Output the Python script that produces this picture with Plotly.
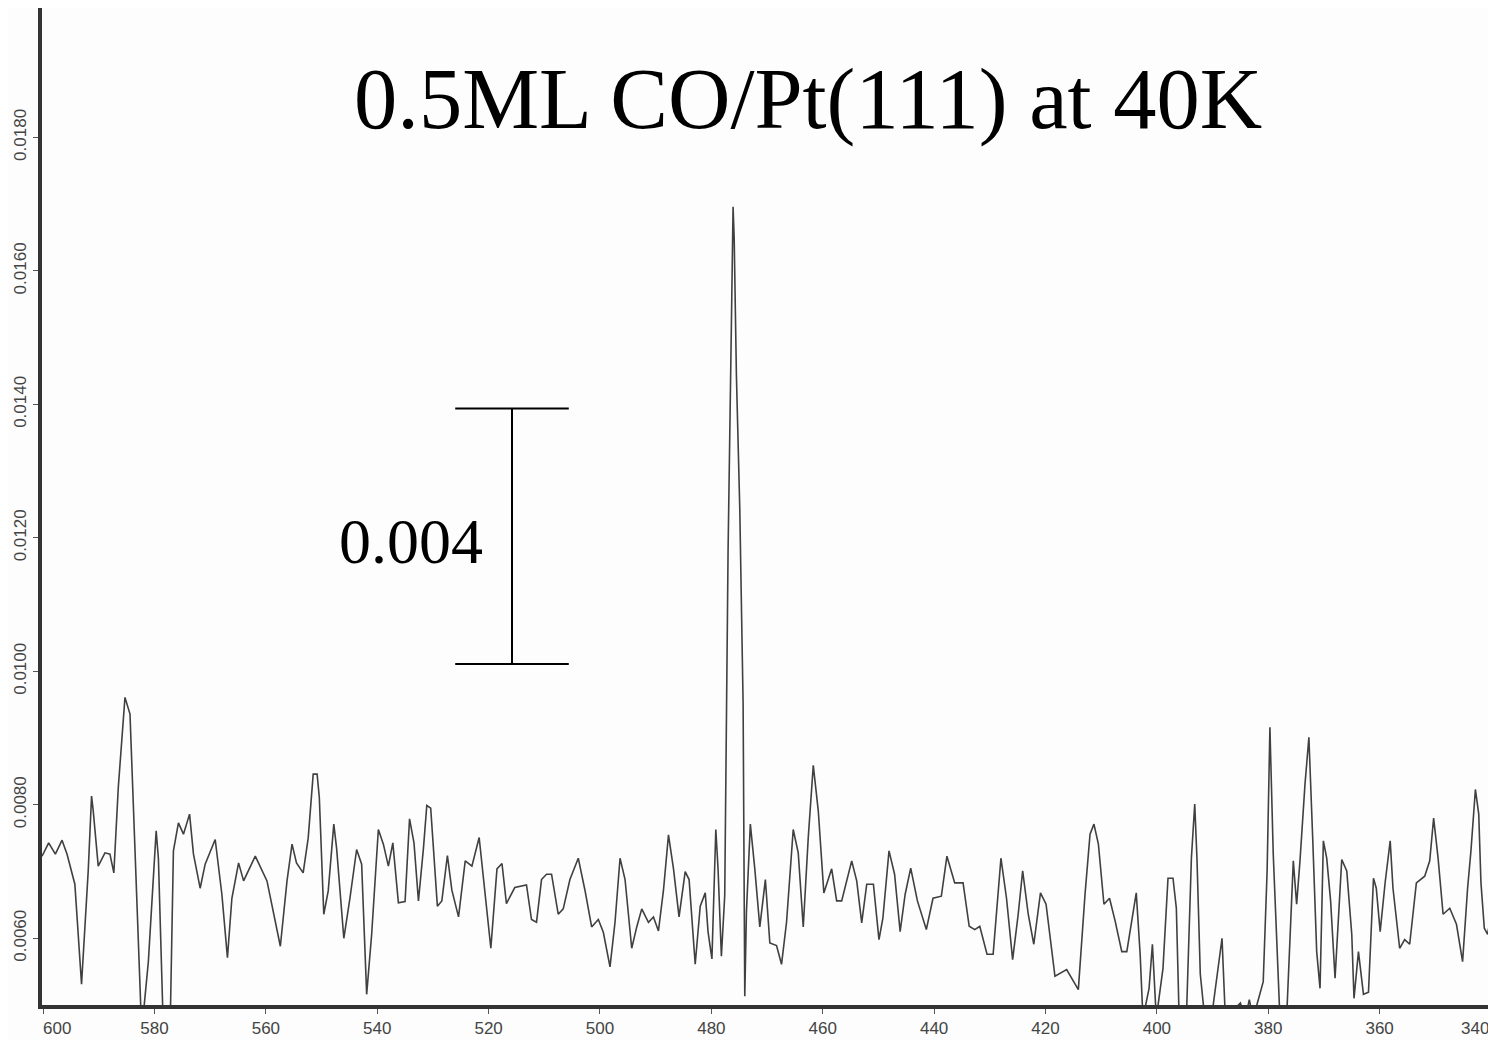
import plotly.graph_objects as go

# Wavenumber (cm^-1) and absorbance
wavenumber = [
    600.2, 599.0, 597.8, 596.6, 595.7, 594.3, 593.1, 591.9, 591.3, 591.0, 590.1, 588.9, 588.0, 587.3,
    586.5, 585.3, 584.4, 583.2, 582.3, 581.1, 579.7, 579.3, 578.4, 577.2, 576.6, 575.7, 574.8, 573.7,
    573.0, 571.8, 570.9, 569.1, 567.9, 566.9, 566.1, 564.9, 564.0, 561.9, 559.8, 557.4, 556.2, 555.3,
    554.5, 553.3, 552.4, 551.5, 550.8, 550.4, 549.6, 548.8, 547.8, 547.3, 546.0, 544.9, 543.7, 542.8,
    541.9, 541.0, 539.8, 538.9, 538.0, 537.2, 536.2, 535.0, 534.2, 533.4, 532.6, 531.7, 531.1, 530.4,
    529.2, 528.4, 527.4, 526.6, 525.4, 524.2, 523.0, 521.7, 520.9, 519.6, 518.5, 517.6, 516.8, 515.3,
    513.2, 512.3, 511.4, 510.5, 509.6, 508.7, 507.5, 506.6, 505.4, 503.9, 502.7, 501.5, 500.3, 499.4,
    498.2, 497.3, 496.4, 495.5, 494.3, 493.4, 492.5, 491.3, 490.4, 489.5, 488.6, 487.7, 486.8, 485.8,
    484.7, 484.0, 482.9, 482.0, 481.1, 480.6, 479.9, 479.2, 478.8, 478.2, 477.6, 477.0, 476.4, 476.1,
    475.9, 475.5, 474.9, 474.3, 474.0, 473.7, 473.0, 472.2, 471.3, 470.3, 469.5, 468.3, 467.4, 466.5,
    465.3, 464.4, 463.5, 462.6, 461.7, 460.8, 459.8, 459.0, 458.4, 457.5, 456.6, 454.8, 453.9, 453.0,
    452.1, 450.9, 449.9, 449.2, 448.1, 447.1, 446.1, 445.2, 444.2, 443.0, 441.4, 440.2, 438.7, 437.7,
    436.3, 434.8, 433.7, 432.7, 431.8, 430.5, 429.4, 428.0, 427.0, 425.9, 424.9, 424.1, 423.1, 422.1,
    420.9, 419.9, 418.3, 416.2, 414.1, 412.9, 412.0, 411.3, 410.5, 409.5, 408.5, 407.5, 406.3, 405.4,
    403.7, 403.0, 402.5, 401.4, 400.8, 400.1, 398.9, 398.0, 397.1, 396.5, 396.0, 394.7, 393.8, 393.2,
    392.8, 392.2, 391.4, 390.2, 389.3, 388.3, 387.7, 385.0, 384.1, 383.4, 382.7, 380.9, 380.2, 379.7,
    379.1, 378.5, 377.9, 376.7, 376.1, 375.5, 374.9, 374.3, 373.4, 372.7, 372.0, 371.3, 370.7, 370.1,
    369.5, 368.8, 368.0, 366.8, 365.9, 365.0, 364.6, 363.8, 362.9, 362.0, 361.1, 360.6, 359.9, 359.0,
    358.1, 357.6, 356.4, 355.5, 354.6, 353.4, 351.9, 351.0, 350.3, 349.5, 348.6, 347.4, 346.2, 345.1,
    344.2, 343.6, 342.8, 342.2, 341.8, 341.2, 340.6, 340.0, 339.4,
]
absorbance = [
    0.00723, 0.00743, 0.00726, 0.00747, 0.00726, 0.00681, 0.00531, 0.00701, 0.00813, 0.00791, 0.00708, 0.00728, 0.00726, 0.00698,
    0.00826, 0.00961, 0.00936, 0.00645, 0.00460, 0.00565, 0.00761, 0.00720, 0.00460, 0.00460, 0.00731, 0.00773, 0.00756, 0.00786,
    0.00726, 0.00675, 0.00711, 0.00748, 0.00666, 0.00571, 0.00660, 0.00713, 0.00686, 0.00723, 0.00686, 0.00588, 0.00686, 0.00741,
    0.00713, 0.00698, 0.00750, 0.00846, 0.00846, 0.00811, 0.00636, 0.00671, 0.00771, 0.00735, 0.00600, 0.00660, 0.00733, 0.00711,
    0.00516, 0.00606, 0.00763, 0.00741, 0.00708, 0.00743, 0.00653, 0.00655, 0.00779, 0.00743, 0.00656, 0.00735, 0.00799, 0.00795,
    0.00648, 0.00656, 0.00724, 0.00672, 0.00632, 0.00716, 0.00708, 0.00751, 0.00688, 0.00585, 0.00704, 0.00712, 0.00652, 0.00676,
    0.00680, 0.00628, 0.00624, 0.00688, 0.00696, 0.00696, 0.00636, 0.00644, 0.00688, 0.00720, 0.00672, 0.00617, 0.00628, 0.00609,
    0.00557, 0.00624, 0.00720, 0.00688, 0.00585, 0.00617, 0.00644, 0.00624, 0.00632, 0.00611, 0.00672, 0.00755, 0.00704, 0.00632,
    0.00700, 0.00688, 0.00561, 0.00648, 0.00668, 0.00610, 0.00569, 0.00763, 0.00704, 0.00573, 0.00664, 0.01180, 0.01522, 0.01696,
    0.01648, 0.01443, 0.01245, 0.00951, 0.00513, 0.00640, 0.00771, 0.00704, 0.00617, 0.00688, 0.00593, 0.00589, 0.00561, 0.00624,
    0.00763, 0.00728, 0.00617, 0.00751, 0.00859, 0.00791, 0.00668, 0.00688, 0.00704, 0.00656, 0.00656, 0.00716, 0.00686, 0.00623,
    0.00681, 0.00681, 0.00598, 0.00630, 0.00731, 0.00696, 0.00610, 0.00666, 0.00705, 0.00656, 0.00613, 0.00660, 0.00663, 0.00723,
    0.00683, 0.00683, 0.00618, 0.00613, 0.00618, 0.00576, 0.00576, 0.00720, 0.00660, 0.00568, 0.00636, 0.00701, 0.00636, 0.00591,
    0.00668, 0.00651, 0.00543, 0.00553, 0.00523, 0.00666, 0.00756, 0.00771, 0.00741, 0.00651, 0.00660, 0.00626, 0.00580, 0.00580,
    0.00668, 0.00576, 0.00480, 0.00525, 0.00591, 0.00480, 0.00555, 0.00690, 0.00690, 0.00645, 0.00480, 0.00480, 0.00720, 0.00801,
    0.00720, 0.00546, 0.00480, 0.00480, 0.00540, 0.00600, 0.00480, 0.00503, 0.00480, 0.00508, 0.00480, 0.00535, 0.00701, 0.00916,
    0.00726, 0.00606, 0.00480, 0.00480, 0.00606, 0.00716, 0.00651, 0.00716, 0.00831, 0.00901, 0.00746, 0.00580, 0.00525, 0.00746,
    0.00720, 0.00656, 0.00540, 0.00718, 0.00701, 0.00606, 0.00510, 0.00580, 0.00516, 0.00519, 0.00690, 0.00675, 0.00610, 0.00684,
    0.00746, 0.00675, 0.00585, 0.00598, 0.00591, 0.00683, 0.00693, 0.00716, 0.00780, 0.00720, 0.00636, 0.00645, 0.00621, 0.00565,
    0.00675, 0.00731, 0.00823, 0.00786, 0.00683, 0.00615, 0.00606, 0.00636, 0.00606,
]

x_ticks = [600, 580, 560, 540, 520, 500, 480, 460, 440, 420, 400, 380, 360, 340]
y_ticks = [0.0060, 0.0080, 0.0100, 0.0120, 0.0140, 0.0160, 0.0180]

title_text = "0.5ML CO/Pt(111) at 40K"
title_x = 462.6
title_y = 0.01858
scale_label = "0.004"
scale_x = 515.8
scale_x_left = 526.0
scale_x_right = 505.6
scale_bottom = 0.01011
scale_top = 0.01394
scale_label_x = 533.9
scale_label_y = 0.01195

tick_font = dict(family="Liberation Sans, Arial, sans-serif", size=17, color="#444444")

fig = go.Figure()
fig.add_trace(go.Scatter(
    x=wavenumber, y=absorbance, mode="lines",
    line=dict(color="#404040", width=1.6),
    showlegend=False, hoverinfo="skip",
))

# Scale bar
for (xa, xb, ya, yb) in [
    (scale_x, scale_x, scale_bottom, scale_top),
    (scale_x_left, scale_x_right, scale_top, scale_top),
    (scale_x_left, scale_x_right, scale_bottom, scale_bottom),
]:
    fig.add_shape(type="line", xref="x", yref="y", x0=xa, x1=xb, y0=ya, y1=yb,
                  line=dict(color="black", width=2))

fig.add_annotation(x=scale_label_x, y=scale_label_y, xref="x", yref="y",
                   text=scale_label, showarrow=False,
                   font=dict(family="Liberation Serif, Times New Roman, serif", size=64, color="black"),
                   xanchor="center", yanchor="middle")

fig.add_annotation(x=title_x, y=title_y, xref="x", yref="y",
                   text=title_text, showarrow=False,
                   font=dict(family="Liberation Serif, Times New Roman, serif", size=86.5, color="black"),
                   xanchor="center", yanchor="middle")

# End tick labels kept inside the axis span, as in the reference
fig.add_annotation(x=x_ticks[0], y=0, xref="x", yref="paper", text=str(x_ticks[0]),
                   showarrow=False, xanchor="left", yanchor="middle", xshift=-2, yshift=-23,
                   font=tick_font)
fig.add_annotation(x=x_ticks[-1], y=0, xref="x", yref="paper", text=str(x_ticks[-1]),
                   showarrow=False, xanchor="right", yanchor="middle", xshift=0, yshift=-23,
                   font=tick_font)

fig.update_layout(
    width=1488, height=1032,
    margin=dict(l=34, r=0, t=0, b=35),
    paper_bgcolor="#fcfdfc", plot_bgcolor="#fcfdfc",
)
fig.update_xaxes(
    range=[600.2, 339.1], tickvals=x_ticks,
    ticktext=[""] + [str(v) for v in x_ticks[1:-1]] + [""],
    showgrid=False, zeroline=False, showline=True, linecolor="#333333", linewidth=4,
    ticks="outside", ticklen=5, tickcolor="#555555", tickwidth=1,
    tickfont=tick_font, automargin=False,
)
fig.update_yaxes(
    range=[0.0050, 0.01994], tickvals=y_ticks, ticktext=["%.4f" % v for v in y_ticks],
    tickangle=-90,
    showgrid=False, zeroline=False, showline=True, linecolor="#333333", linewidth=4,
    ticks="outside", ticklen=5, tickcolor="#555555", tickwidth=1,
    tickfont=dict(family="Liberation Sans, Arial, sans-serif", size=17, color="#444444"),
    automargin=False,
)

fig.write_html("out.html")
